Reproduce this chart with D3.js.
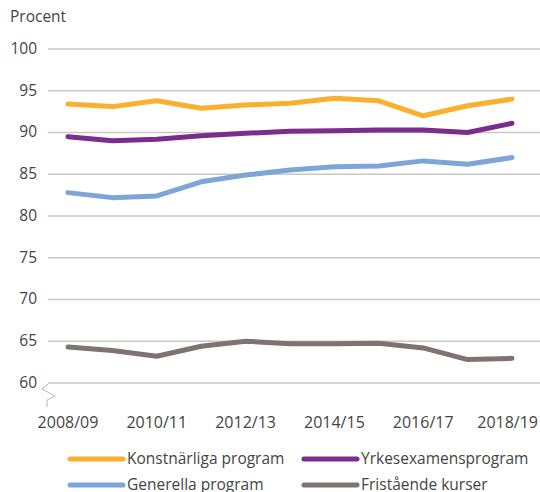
<!DOCTYPE html>
<meta charset='utf-8'>
<style>
  body { margin: 0; background: #fff; }
  text { font-family: 'Open Sans', sans-serif; fill: #444; }
</style>
<div id='chart'></div>
<script src='https://d3js.org/d3.v7.min.js'></script>
<script>
  var years = ['2008/09','2009/10','2010/11','2011/12','2012/13','2013/14','2014/15','2015/16','2016/17','2017/18','2018/19'];
  var tickYears = ['2008/09','2010/11','2012/13','2014/15','2016/17','2018/19'];
  var yTicks = [60, 65, 70, 75, 80, 85, 90, 95, 100];

  var konstnarliga = [93.4, 93.1, 93.8, 92.9, 93.3, 93.5, 94.1, 93.8, 92.0, 93.2, 94.0];
  var yrkesexamen = [89.5, 89.0, 89.2, 89.6, 89.9, 90.15, 90.2, 90.3, 90.3, 90.0, 91.1];
  var generella = [82.8, 82.2, 82.4, 84.1, 84.9, 85.5, 85.9, 86.0, 86.6, 86.2, 87.0];
  var fristaende = [64.3, 63.9, 63.2, 64.4, 65.0, 64.7, 64.7, 64.75, 64.2, 62.8, 62.95];

  var series = [
    {name: 'Konstnärliga program', values: konstnarliga, color: '#fbb02d'},
    {name: 'Yrkesexamensprogram', values: yrkesexamen, color: '#7a2c8f'},
    {name: 'Generella program', values: generella, color: '#7ea5d7'},
    {name: 'Fristående kurser', values: fristaende, color: '#7d7370'}
  ];

  var width = 540, height = 492;
  var svg = d3.select('#chart').append('svg')
      .attr('width', width)
      .attr('height', height);

  var x = d3.scalePoint().domain(years).range([68, 512]);
  var y = d3.scaleLinear().domain([60, 100]).range([383, 49]);

  // grid + y labels
  svg.append('g').selectAll('line')
    .data(yTicks).enter().append('line')
      .attr('x1', 48).attr('x2', 540)
      .attr('y1', function(d) { return y(d); })
      .attr('y2', function(d) { return y(d); })
      .attr('stroke', '#c8c8c8')
      .attr('stroke-width', 1.5);

  svg.append('g').selectAll('text')
    .data(yTicks).enter().append('text')
      .attr('x', 37)
      .attr('y', function(d) { return y(d); })
      .attr('dy', '0.32em')
      .attr('text-anchor', 'end')
      .style('font-size', '15.5px')
      .text(function(d) { return d; });

  svg.append('text')
    .attr('x', 10).attr('y', 22)
    .style('font-size', '15.5px')
    .text('Procent');

  // axis break
  svg.append('path')
    .attr('d', 'M48,384 L42,389 L55,396 L47,400 L47,407')
    .attr('fill', 'none')
    .attr('stroke', '#b5b5b5')
    .attr('stroke-width', 1);

  // x labels (last one kept inside the right edge)
  var last = tickYears[tickYears.length - 1];
  svg.append('g').selectAll('text')
    .data(tickYears).enter().append('text')
      .attr('x', function(d) { return d === last ? width - 2 : x(d); })
      .attr('y', 428)
      .attr('text-anchor', function(d) { return d === last ? 'end' : 'middle'; })
      .style('font-size', '16px')
      .text(function(d) { return d; });

  var line = d3.line()
    .x(function(d, i) { return x(years[i]); })
    .y(function(d) { return y(d); });

  svg.append('g').selectAll('path')
    .data(series).enter().append('path')
      .attr('d', function(d) { return line(d.values); })
      .attr('fill', 'none')
      .attr('stroke', function(d) { return d.color; })
      .attr('stroke-width', 5)
      .attr('stroke-linecap', 'round')
      .attr('stroke-linejoin', 'round');

  // legend
  var legendPos = [[70, 459], [304, 459], [70, 485], [304, 485]];
  var legend = svg.append('g').selectAll('g')
    .data(series).enter().append('g')
      .attr('transform', function(d, i) { return 'translate(' + legendPos[i][0] + ',' + legendPos[i][1] + ')'; });
  legend.append('line')
    .attr('x1', 0).attr('x2', 53)
    .attr('stroke', function(d) { return d.color; })
    .attr('stroke-width', 5)
    .attr('stroke-linecap', 'round');
  legend.append('text')
    .attr('x', 57)
    .attr('dy', '0.35em')
    .style('font-size', '15.5px')
    .text(function(d) { return d.name; });
</script>
